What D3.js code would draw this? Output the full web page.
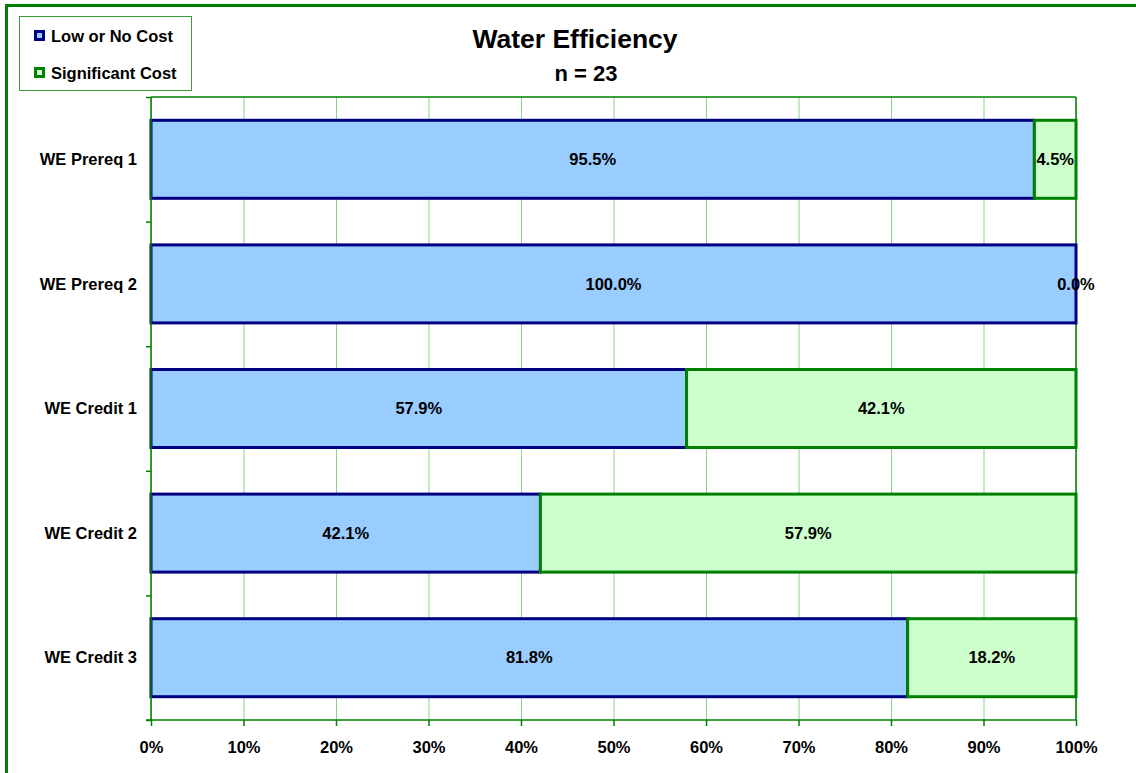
<!DOCTYPE html>
<html>
<head>
<meta charset="utf-8">
<script src="https://cdn.jsdelivr.net/npm/d3@7"></script>
<style>
  body { margin: 0; background: #fff; }
  svg { display: block; font-family: "Liberation Sans", Arial, sans-serif; font-weight: bold; }
  .grid line { stroke: #8fd08f; stroke-width: 1; }
  .grid path { display: none; }
  .x-axis path, .y-axis path { display: none; }
  .x-axis line, .y-axis line { stroke: #008000; stroke-width: 1.5; }
  .x-axis text, .y-axis text { font-size: 16.5px; fill: #000; }
</style>
</head>
<body>
<svg id="chart" width="1136" height="773"></svg>
<script>
const categories = ["WE Prereq 1", "WE Prereq 2", "WE Credit 1", "WE Credit 2", "WE Credit 3"];
const lowCost = [95.5, 100.0, 57.9, 42.1, 81.8];
const significantCost = [4.5, 0.0, 42.1, 57.9, 18.2];
const xTicks = [0, 10, 20, 30, 40, 50, 60, 70, 80, 90, 100];
const seriesNames = ["Low or No Cost", "Significant Cost"];

const fills = ["#99ccff", "#ccffcc"];
const strokes = ["#000080", "#008000"];

const plotLeft = 151, plotRight = 1076, plotTop = 97, plotBottom = 720;

const svg = d3.select("#chart");

// outer frame, runs off the right and bottom like the reference
svg.append("rect")
  .attr("x", 6.5).attr("y", 5.5)
  .attr("width", 1140).attr("height", 800)
  .attr("fill", "none").attr("stroke", "#008000").attr("stroke-width", 3);

const x = d3.scaleLinear().domain([0, 100]).range([plotLeft, plotRight]);
const y = d3.scaleBand().domain(categories).range([plotTop, plotBottom])
  .paddingInner(0.374).paddingOuter(0.187);

// gridlines
svg.append("g")
  .attr("class", "grid")
  .attr("transform", `translate(0,${plotBottom})`)
  .call(d3.axisBottom(x).tickValues(xTicks).tickSize(-(plotBottom - plotTop)).tickFormat(""));

// plot frame top / right
svg.append("line").attr("x1", plotLeft).attr("x2", plotRight).attr("y1", plotTop).attr("y2", plotTop)
  .attr("stroke", "#008000").attr("stroke-width", 1.5);
svg.append("line").attr("x1", plotRight).attr("x2", plotRight).attr("y1", plotTop).attr("y2", plotBottom)
  .attr("stroke", "#008000").attr("stroke-width", 1.5);

const rows = categories.map((c, i) => ({ cat: c, vals: [lowCost[i], significantCost[i]] }));

rows.forEach((row) => {
  let start = 0;
  row.vals.forEach((v, k) => {
    row["x0_" + k] = start;
    start += v;
  });
});

[0, 1].forEach((k) => {
  svg.append("g")
    .selectAll("rect")
    .data(rows.filter((d) => d.vals[k] > 0))
    .join("rect")
    .attr("x", (d) => x(d["x0_" + k]))
    .attr("y", (d) => y(d.cat))
    .attr("width", (d) => x(d["x0_" + k] + d.vals[k]) - x(d["x0_" + k]))
    .attr("height", y.bandwidth())
    .attr("fill", fills[k])
    .attr("stroke", strokes[k])
    .attr("stroke-width", 3);
});

// value labels
[0, 1].forEach((k) => {
  svg.append("g")
    .selectAll("text")
    .data(rows)
    .join("text")
    .attr("x", (d) => x(d["x0_" + k] + d.vals[k] / 2))
    .attr("y", (d) => y(d.cat) + y.bandwidth() / 2)
    .attr("dy", "0.35em")
    .attr("text-anchor", "middle")
    .attr("font-size", 16.5)
    .text((d) => d.vals[k].toFixed(1) + "%");
});

// axes
const xAxis = svg.append("g")
  .attr("class", "x-axis")
  .attr("transform", `translate(0,${plotBottom})`)
  .call(d3.axisBottom(x).tickValues(xTicks).tickSize(6).tickPadding(15).tickFormat((d) => d + "%"));
xAxis.append("line").attr("x1", plotLeft - 5).attr("x2", plotRight).attr("y1", 0).attr("y2", 0);

const yTickScale = d3.scaleLinear().domain([0, categories.length]).range([plotTop, plotBottom]);
const yAxis = svg.append("g")
  .attr("class", "y-axis")
  .attr("transform", `translate(${plotLeft},0)`)
  .call(d3.axisLeft(yTickScale).ticks(categories.length).tickSize(5).tickFormat(""));
yAxis.append("line").attr("x1", 0).attr("x2", 0).attr("y1", plotTop).attr("y2", plotBottom);

svg.append("g")
  .selectAll("text")
  .data(categories)
  .join("text")
  .attr("x", 137)
  .attr("y", (d) => y(d) + y.bandwidth() / 2)
  .attr("dy", "0.35em")
  .attr("text-anchor", "end")
  .attr("font-size", 16.5)
  .text((d) => d);

// title
svg.append("text").attr("x", 575).attr("y", 48).attr("text-anchor", "middle")
  .attr("font-size", 26.5).text("Water Efficiency");
svg.append("text").attr("x", 586).attr("y", 81).attr("text-anchor", "middle")
  .attr("font-size", 22).text("n = 23");

// legend
const legend = svg.append("g");
legend.append("rect")
  .attr("x", 19.5).attr("y", 16.5).attr("width", 172).attr("height", 74)
  .attr("fill", "#fff").attr("stroke", "#3a9a3a").attr("stroke-width", 1);
seriesNames.forEach((name, i) => {
  const cy = 36 + i * 37;
  legend.append("rect")
    .attr("x", 35.5).attr("y", cy - 4.5).attr("width", 8).attr("height", 8)
    .attr("fill", fills[i]).attr("stroke", strokes[i]).attr("stroke-width", 3);
  legend.append("text")
    .attr("x", 51).attr("y", cy).attr("dy", "0.35em")
    .attr("font-size", 16.5).text(name);
});
</script>
</body>
</html>
